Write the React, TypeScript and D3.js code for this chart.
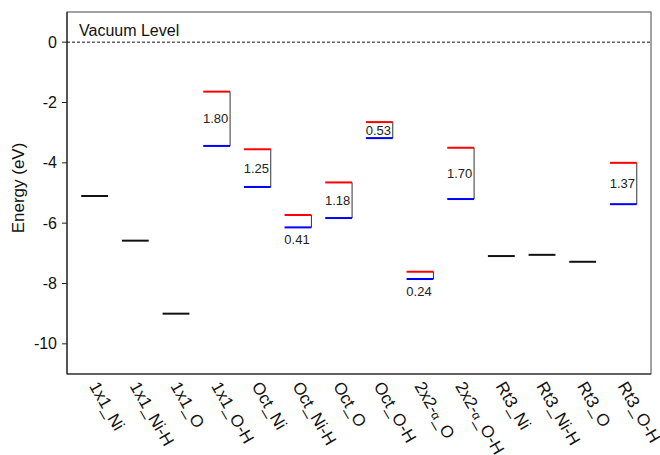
import React from "react";
import * as d3 from "d3";

const categories = ["1x1_Ni", "1x1_Ni-H", "1x1_O", "1x1_O-H", "Oct_Ni", "Oct_Ni-H", "Oct_O", "Oct_O-H", "2x2-α_O", "2x2-α_O-H", "Rt3_Ni", "Rt3_Ni-H", "Rt3_O", "Rt3_O-H"];
const singleLevels: (number | null)[] = [-5.1, -6.58, -9.0, null, null, null, null, null, null, null, -7.09, -7.05, -7.28, null];
const upperLevels: (number | null)[] = [null, null, null, -1.64, -3.55, -5.73, -4.65, -2.65, -7.61, -3.5, null, null, null, -4.0];
const lowerLevels: (number | null)[] = [null, null, null, -3.44, -4.8, -6.14, -5.83, -3.18, -7.85, -5.2, null, null, null, -5.37];
const gapLabels: (string | null)[] = [null, null, null, "1.80", "1.25", "0.41", "1.18", "0.53", "0.24", "1.70", null, null, null, "1.37"];
const yTicks = [0, -2, -4, -6, -8, -10];

const W = 660, H = 455;
const M = { left: 67, right: 651, top: 12, bottom: 374 };
const FONT = "Liberation Sans, Arial, Helvetica, sans-serif";

export default function App() {
  const x = d3.scaleLinear().domain([0.32, 14.68]).range([M.left, M.right]);
  const y = d3.scaleLinear().domain([1, -11]).range([M.top, M.bottom]);
  const hw = 0.33;

  return (
    <svg width={W} height={H} style={{ position: "absolute", left: 0, top: 0 }} fontFamily={FONT}>
      <rect x={0} y={0} width={W} height={H} fill="white" />
      {/* frame */}
      <rect x={M.left} y={M.top} width={M.right - M.left} height={M.bottom - M.top} fill="none" stroke="#666" strokeWidth={1.2} />
      <line x1={M.left} x2={M.left} y1={M.top} y2={M.bottom} stroke="#222" strokeWidth={1.2} />
      <line x1={M.left} x2={M.right} y1={M.bottom} y2={M.bottom} stroke="#222" strokeWidth={1.2} />
      {/* vacuum line */}
      <line x1={M.left} x2={M.right} y1={y(0)} y2={y(0)} stroke="#111" strokeWidth={1} strokeDasharray="3,2" />
      <text x={x(0.32) + 12} y={y(0) - 6} fontSize={16} fill="#111">Vacuum Level</text>
      {/* y ticks */}
      {yTicks.map((t) => (
        <g key={t}>
          <line x1={M.left - 5} x2={M.left} y1={y(t)} y2={y(t)} stroke="#222" strokeWidth={1} />
          <text x={M.left - 10} y={y(t)} dy="0.35em" textAnchor="end" fontSize={16} fill="#111">{t}</text>
        </g>
      ))}
      <text transform={`translate(24,188) rotate(-90)`} textAnchor="middle" fontSize={17} fill="#111">Energy (eV)</text>
      {/* levels */}
      {categories.map((c, i) => {
        const xi = i + 1;
        const x1 = x(xi - hw), x2 = x(xi + hw);
        const s = singleLevels[i], u = upperLevels[i], l = lowerLevels[i], g = gapLabels[i];
        return (
          <g key={c}>
            {s !== null && <line x1={x1} x2={x2} y1={y(s)} y2={y(s)} stroke="#111" strokeWidth={2} />}
            {u !== null && l !== null && (
              <g>
                <line x1={x2} x2={x2} y1={y(u)} y2={y(l)} stroke="#333" strokeWidth={1} />
                <line x1={x1} x2={x2} y1={y(u)} y2={y(u)} stroke="#f00" strokeWidth={2} />
                <line x1={x1} x2={x2} y1={y(l)} y2={y(l)} stroke="#00f" strokeWidth={2} />
                {g && (
                  <text
                    x={x(xi) - 1}
                    y={u - l >= 0.5 ? (y(u) + y(l)) / 2 : y(l) + 12}
                    dy="0.35em"
                    textAnchor="middle"
                    fontSize={13}
                    fill="#222"
                  >
                    {g}
                  </text>
                )}
              </g>
            )}
          </g>
        );
      })}
      {/* x labels */}
      {categories.map((c, i) => {
        const parts = c.split("α");
        return (
          <text key={c} transform={`translate(${x(i + 1) - 6},${M.bottom + 12}) rotate(60)`} fontSize={17} fill="#111">
            {parts.length === 1 ? c : (
              <>
                <tspan>{parts[0]}</tspan>
                <tspan fontSize={12}>α</tspan>
                <tspan>{parts[1]}</tspan>
              </>
            )}
          </text>
        );
      })}
    </svg>
  );
}
